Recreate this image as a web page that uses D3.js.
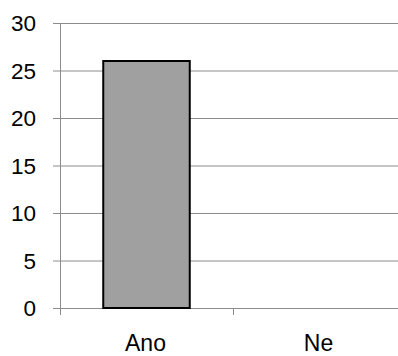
<!DOCTYPE html>
<html>
<head>
<meta charset="utf-8">
<script src="https://cdn.jsdelivr.net/npm/d3@7"></script>
<style>
  html, body { margin: 0; padding: 0; background: #fff; }
  svg text { font-family: "Liberation Sans", Arial, sans-serif; fill: #000; }
</style>
</head>
<body>
<svg id="chart" width="398" height="356"></svg>
<script>
// Responses per answer
const categories = ["Ano", "Ne"];
const counts = [26, 0];
const yTicks = [0, 5, 10, 15, 20, 25, 30];

const svg = d3.select("#chart");
const plot = { left: 60, right: 406, top: 23, bottom: 308 };

const x = d3.scaleBand().domain(categories).range([plot.left, plot.right]).paddingInner(0).paddingOuter(0);
const y = d3.scaleLinear().domain([0, 30]).range([plot.bottom, plot.top]);

// Horizontal gridlines
svg.append("g")
  .selectAll("line")
  .data(yTicks)
  .join("line")
  .attr("x1", plot.left - 7).attr("x2", 398)
  .attr("y1", d => y(d) + 0.5).attr("y2", d => y(d) + 0.5)
  .attr("stroke", "#8c8c8c").attr("stroke-width", 1);

// Vertical axis line
svg.append("line")
  .attr("x1", plot.left + 0.5).attr("x2", plot.left + 0.5)
  .attr("y1", plot.top).attr("y2", plot.bottom + 7)
  .attr("stroke", "#8c8c8c");

// Category separator ticks
svg.append("g")
  .selectAll("line")
  .data(categories.slice(1))
  .join("line")
  .attr("x1", d => x(d) + 0.5).attr("x2", d => x(d) + 0.5)
  .attr("y1", plot.bottom).attr("y2", plot.bottom + 7)
  .attr("stroke", "#8c8c8c");

// Y tick labels
svg.append("g")
  .selectAll("text")
  .data(yTicks)
  .join("text")
  .attr("x", 36)
  .attr("y", d => y(d))
  .attr("dy", "0.36em")
  .attr("text-anchor", "end")
  .attr("font-size", 22.5)
  .text(d => d);

// Bars
const barW = x.bandwidth() / 2;
svg.append("g")
  .selectAll("rect")
  .data(categories.map((c, i) => ({ c, v: counts[i] })).filter(d => d.v > 0))
  .join("rect")
  .attr("x", d => x(d.c) + (x.bandwidth() - barW) / 2)
  .attr("y", d => y(d.v))
  .attr("width", barW)
  .attr("height", d => y(0) - y(d.v))
  .attr("fill", "#a0a0a0")
  .attr("stroke", "#000")
  .attr("stroke-width", 2);

// Category labels
svg.append("g")
  .selectAll("text")
  .data(categories)
  .join("text")
  .attr("x", d => x(d) + x.bandwidth() / 2 - 1)
  .attr("y", 351)
  .attr("text-anchor", "middle")
  .attr("font-size", 23)
  .text(d => d);
</script>
</body>
</html>
